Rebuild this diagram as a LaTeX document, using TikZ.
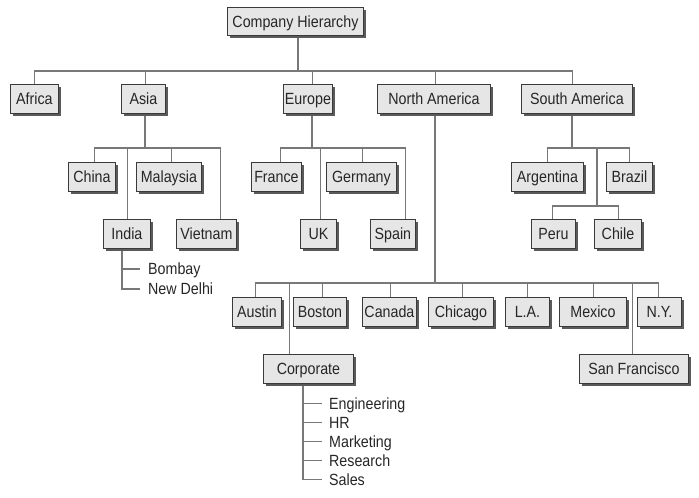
\documentclass[tikz,border=0pt]{standalone}
\usepackage{fontspec}
\setmainfont[FakeStretch=0.88]{Liberation Sans}
\usetikzlibrary{shadows,backgrounds}
\definecolor{boxfill}{HTML}{E6E6E6}
\definecolor{boxdraw}{HTML}{3A3A3A}
\definecolor{shadowc}{HTML}{5A5A5A}
\definecolor{linec}{HTML}{787878}
\definecolor{txt}{HTML}{262626}
\newcommand{\diafont}{\fontsize{16.2pt}{19pt}\selectfont}
\begin{document}
\begin{tikzpicture}[x=1pt,y=-1pt,
  hbox/.style={draw=boxdraw, fill=boxfill, line width=0.9pt, minimum height=29pt,
    inner sep=0pt, anchor=north west, text=txt, font=\diafont,
    text height=11.6pt, text depth=0pt,
    drop shadow={shadow xshift=3pt, shadow yshift=-3pt, fill=shadowc, opacity=1}},
  conn/.style={draw=linec, line width=1.4pt},
  item/.style={anchor=west, inner sep=0pt, text=txt, font=\diafont,
    text height=11.6pt, text depth=0pt}]
\useasboundingbox (0,0) rectangle (699,498);

% boxes
\node[hbox, minimum width=136pt, minimum height=28pt] (top) at (227,7) {Company Hierarchy};
\node[hbox, minimum width=48pt]  (africa)    at (10,84)  {Africa};
\node[hbox, minimum width=44pt]  (asia)      at (121,84) {Asia};
\node[hbox, minimum width=49pt]  (europe)    at (283,84) {Europe};
\node[hbox, minimum width=113pt] (namer)     at (377,84) {North America};
\node[hbox, minimum width=111pt] (samer)     at (521,84) {South America};
\node[hbox, minimum width=47pt]  (china)     at (68,162) {China};
\node[hbox, minimum width=65pt]  (malaysia)  at (136,162) {Malaysia};
\node[hbox, minimum width=50pt]  (france)    at (251,162) {France};
\node[hbox, minimum width=70pt]  (germany)   at (326,162) {Germany};
\node[hbox, minimum width=72pt]  (argentina) at (511,162) {Argentina};
\node[hbox, minimum width=46pt]  (brazil)    at (606,162) {Brazil};
\node[hbox, minimum width=47pt]  (india)     at (103,219) {India};
\node[hbox, minimum width=60pt]  (vietnam)   at (176,219) {Vietnam};
\node[hbox, minimum width=36pt]  (uk)        at (300,219) {UK};
\node[hbox, minimum width=45pt]  (spain)     at (370,219) {Spain};
\node[hbox, minimum width=44pt]  (peru)      at (531,219) {Peru};
\node[hbox, minimum width=47pt]  (chile)     at (594,219) {Chile};
\node[hbox, minimum width=49pt]  (austin)    at (232,297) {Austin};
\node[hbox, minimum width=53pt]  (boston)    at (293,297) {Boston};
\node[hbox, minimum width=54pt]  (canada)    at (362,297) {Canada};
\node[hbox, minimum width=65pt]  (chicago)   at (428,297) {Chicago};
\node[hbox, minimum width=44pt]  (la)        at (505,297) {L.A.};
\node[hbox, minimum width=67pt]  (mexico)    at (559,297) {Mexico};
\node[hbox, minimum width=44pt]  (ny)        at (637,297) {N.Y.};
\node[hbox, minimum width=90pt]  (corporate) at (263,354) {Corporate};
\node[hbox, minimum width=109pt] (sanfran)   at (579,354) {San Francisco};

% list items
\node[item] (bombay) at (148,269) {Bombay};
\node[item] (delhi)  at (148,289) {New Delhi};
\node[item] (eng)    at (329,403.5) {Engineering};
\node[item] (hr)     at (329,422.5) {HR};
\node[item] (mkt)    at (329,441.5) {Marketing};
\node[item] (res)    at (329,460.5) {Research};
\node[item] (sales)  at (329,479.5) {Sales};

% bus points
\coordinate (topbus) at (298,71);
\coordinate (asiabus) at (145,148);
\coordinate (eurbus) at (312,148);
\coordinate (sabus) at (572,148);
\coordinate (pcbus) at (597,206);
\coordinate (nabus) at (435,283);

\begin{scope}[on background layer]
% top level
\draw[conn] (topbus |- top.south) -- (topbus);
\draw[conn] (topbus) -| (africa.north);
\draw[conn] (topbus) -| ([xshift=2pt]asia.north);
\draw[conn] (topbus) -| ([xshift=4.5pt]europe.north);
\draw[conn] (topbus) -| ([xshift=1.5pt]namer.north);
\draw[conn] (topbus) -| ([xshift=-4.5pt]samer.north);
% Asia
\draw[conn] (asiabus |- asia.south) -- (asiabus);
\draw[conn] (asiabus) -| ([xshift=2.5pt]china.north);
\draw[conn] (asiabus) -| ([xshift=0.5pt]india.north);
\draw[conn] (asiabus) -| ([xshift=2.5pt]malaysia.north);
\draw[conn] (asiabus) -| ([xshift=14pt]vietnam.north);
% Europe
\draw[conn] (eurbus |- europe.south) -- (eurbus);
\draw[conn] (eurbus) -| ([xshift=4pt]france.north);
\draw[conn] (eurbus) -| ([xshift=2pt]uk.north);
\draw[conn] (eurbus) -| ([xshift=1pt]germany.north);
\draw[conn] (eurbus) -| ([xshift=12.5pt]spain.north);
% South America
\draw[conn] (sabus |- samer.south) -- (sabus);
\draw[conn] (sabus) -| (argentina.north);
\draw[conn] (sabus) -| (brazil.north);
\draw[conn] (sabus) -| (pcbus);
\draw[conn] (pcbus) -| ([xshift=-1pt]peru.north);
\draw[conn] (pcbus) -| ([xshift=0.5pt]chile.north);
% North America
\draw[conn] (nabus |- namer.south) -- (nabus);
\draw[conn] (nabus) -| ([xshift=-1.5pt]austin.north);
\draw[conn] (nabus) -| ([xshift=-19pt]corporate.north);
\draw[conn] (nabus) -| ([xshift=2.5pt]boston.north);
\draw[conn] (nabus) -| ([xshift=1pt]canada.north);
\draw[conn] (nabus) -| ([xshift=1.5pt]chicago.north);
\draw[conn] (nabus) -| (la.north);
\draw[conn] (nabus) -| ([xshift=0.5pt]mexico.north);
\draw[conn] (nabus) -| ([xshift=-1.5pt]sanfran.north);
\draw[conn] (nabus) -| ([xshift=-1pt]ny.north);
% India list
\coordinate (itrunk) at ([xshift=19pt]india.south west);
\draw[conn] (itrunk) |- ([xshift=-8pt]delhi.west);
\draw[conn] (itrunk |- bombay.west) -- ([xshift=-8pt]bombay.west);
% Corporate list
\coordinate (ctrunk) at ([xshift=40pt]corporate.south west);
\draw[conn] (ctrunk) |- ([xshift=-7pt]sales.west);
\draw[conn] (ctrunk |- eng.west) -- ([xshift=-7pt]eng.west);
\draw[conn] (ctrunk |- hr.west) -- ([xshift=-7pt]hr.west);
\draw[conn] (ctrunk |- mkt.west) -- ([xshift=-7pt]mkt.west);
\draw[conn] (ctrunk |- res.west) -- ([xshift=-7pt]res.west);
\end{scope}
\end{tikzpicture}
\end{document}
